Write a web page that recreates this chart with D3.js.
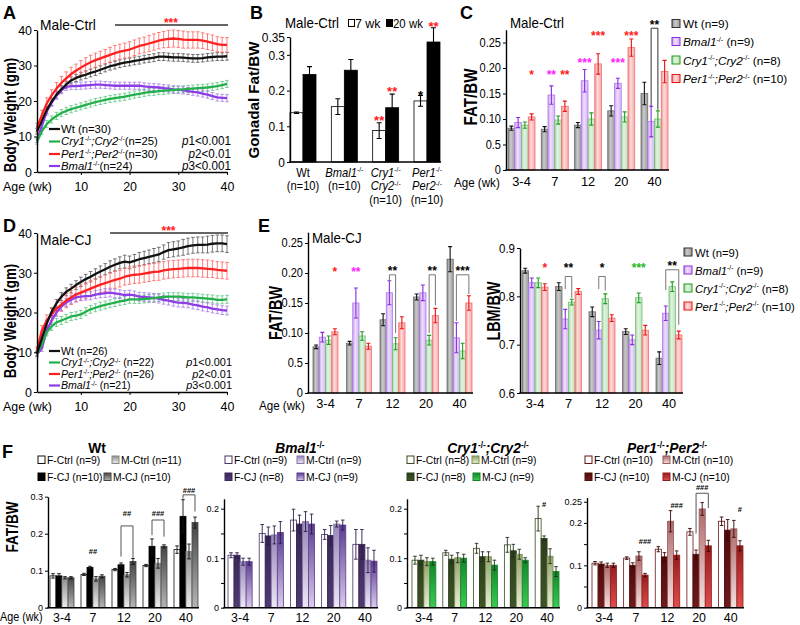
<!DOCTYPE html>
<html><head><meta charset="utf-8">
<script src="https://cdn.jsdelivr.net/npm/d3@7/dist/d3.min.js"></script>
<style>html,body{margin:0;padding:0;background:#fff;}</style>
</head><body>
<script>
// ================= DATA =================
const weeks=[1,2,3,4,5,6,7,8,9,10,11,12,13,14,15,16,17,18,19,20,21,22,23,24,25,26,27,28,29,30,31,32,33,34,35,36,37,38,39,40];
const bwTicks=[0,10,20,30,40];
const ageTicks=[10,20,30,40];

// Panel A (Male-Ctrl body weight, gm)
const A_Wt=[11.5,14.5,17.5,19.8,21.8,23.3,24.6,25.8,26.5,27,27.4,27.9,28.3,28.8,29.3,29.8,30.1,30.5,30.8,31,31.3,31.5,31.8,32,32.2,32.5,32.5,32.4,32.3,32.3,32.2,32.1,32,32,32.1,32.3,32.4,32.5,32.5,32.6];
const A_Per=[12.5,16,19.3,21.6,23.5,25.1,26.4,27.6,28.5,29.4,30.2,30.9,31.5,32,32.5,33,33.5,33.9,34.2,34.5,35,35.5,35.8,36.2,36.6,37,37.3,37.5,37.6,37.5,37.3,37.2,37.2,37.2,37,36.7,36.4,36,35.8,35.8];
const A_Cry=[8.5,11.5,13.5,14.8,15.8,16.6,17.2,17.7,18.1,18.5,18.9,19.3,19.7,20,20.3,20.6,20.8,21,21.2,21.5,21.8,22,22.3,22.5,22.6,22.8,22.9,23,23.1,23.2,23.3,23.4,23.5,23.6,23.7,23.8,24,24.2,24.5,24.8];
const A_Bmal=[9,13,17,19.5,21.5,23,24,24.2,24.2,24.3,24.4,24.5,24.6,24.6,24.5,24.4,24.3,24.3,24.3,24.3,24.3,24.3,24.1,24,23.9,23.8,23.6,23.5,23.3,23.2,23,22.8,22.6,22.4,22.1,21.8,21.4,21,20.9,20.8];
const A_Wt_se=[0.8,0.9,1,1,1,1,1,1,1,1.1,1.1,1.1,1.1,1.1,1.1,1.1,1.1,1.1,1.1,1.1,1.1,1.1,1.1,1.1,1.1,1.1,1.1,1.1,1.1,1.1,1.1,1.1,1.1,1.1,1.1,1.1,1.1,1.1,1.1,1.1];
const A_Per_se=[1.2,1.4,1.6,1.6,1.7,1.8,1.8,1.9,1.9,2,2,2,2,2,2,2.1,2.1,2.1,2.1,2.2,2.2,2.2,2.2,2.3,2.3,2.3,2.3,2.4,2.4,2.4,2.4,2.3,2.3,2.3,2.2,2.2,2.2,2.1,2.1,2.1];
const A_Cry_se=[0.7,0.9,1,1,1,1,1,1,1,1,1,1,1,1,1,1,1,1,1,1,1,1,1,1,1,1,1,1,1,1,1,1,1,1,1,1,1,1,1,1];
const A_Bmal_se=[0.7,0.9,1,1,1,1,1,1,1,1,1,1,1,1,1,1,1,1,1,1,1,1,1,1,1,1,1,1,1,1,1,1,1,1,1,1,1,1,1,1];

// Panel D (Male-CJ body weight, gm)
const D_Wt=[9.7,13.4,17.2,20.2,22.3,24,25.2,26,26.9,27.7,28.4,29,29.7,30.3,30.9,31.5,32,32.5,32.8,32.6,33,33.4,33.7,34,34.3,34.6,35.2,35.7,35.9,36.1,36.4,36.7,36.9,37,37,37.1,37.3,37.4,37.4,37.2];
const D_Per=[10.5,15.5,18,19.5,21,22,23,23.8,24.5,25,25.5,26,26.5,27,27.4,27.8,28.2,28.5,29,29.3,29.5,29.6,29.8,30,30.2,30.3,30.6,30.8,30.9,31,31.1,31.2,31.2,31.2,31.1,31,30.9,30.7,30.6,30.5];
const D_Cry=[9.5,12,15,16.5,17.5,18,18.5,19,19.2,19.5,20.2,20.8,21.2,21.6,21.9,22.2,22.5,22.8,23,23.3,23.3,23.3,23.4,23.5,23.6,23.8,23.9,24,24,24,23.9,23.8,23.8,23.7,23.6,23.5,23.4,23.2,23.2,23.3];
const D_Bmal=[9.5,11,15.5,18,20,21.5,22.5,23.2,23.8,24,24.1,24.2,24.5,24.7,24.9,25,24.8,24.6,24.4,24.5,24.3,24,23.9,23.8,23.7,23.5,23.2,23,22.7,22.5,22.4,22.3,22,21.8,21.5,21.3,21,20.8,20.6,20.5];
const D_Wt_se=[0.6,0.8,0.9,1,1,1,1,1.1,1.1,1.2,1.2,1.3,1.3,1.4,1.4,1.5,1.5,1.5,1.6,1.6,1.6,1.7,1.7,1.7,1.8,1.8,1.8,1.9,1.9,1.9,2,2,2,2,2,2.1,2.1,2.1,2.1,2.1];
const D_Per_se=[0.8,1.2,1.4,1.5,1.6,1.7,1.8,1.8,1.9,1.9,2,2,2,2,2.1,2.1,2.1,2.1,2.1,2.2,2.2,2.2,2.2,2.2,2.2,2.2,2.2,2.2,2.2,2.2,2.2,2.2,2.2,2.2,2.2,2.2,2.1,2.1,2.1,2.1];
const D_Cry_se=[0.6,0.8,0.9,1,1,1,1,1,1,1,1,1,1,1,1,1,1,1,1,1,1,1,1,1,1,1,1,1,1,1,1,1,1,1,1,1,1,1,1,1];
const D_Bmal_se=[0.6,0.8,0.9,1,1,1,1,1,1,1,1,1,1,1,1.1,1.1,1.1,1.1,1.1,1.1,1.1,1.1,1.1,1.1,1.1,1.1,1.1,1.1,1.1,1.1,1.1,1.1,1.1,1.1,1.1,1.1,1.1,1.1,1.1,1.1];

// Panel B (gonadal fat / BW)
const genoB=["Wt","Bmal","Cry","Per"];
const B_7wk=[0.138,0.155,0.088,0.171];
const B_7wk_se=[0.002,0.022,0.022,0.015];
const B_20wk=[0.245,0.257,0.152,0.336];
const B_20wk_se=[0.022,0.03,0.038,0.04];
const B_ticks=[0,0.1,0.2,0.3,0.35];
const B_tickLabels=["0","0.1","0.2","0.3","0.35"];

// Panels C / E
const ageCats=["3-4","7","12","20","40"];
const fatTicks=[0,0.05,0.1,0.15,0.2,0.25];
const fatTickLabels=["0","0.5","0.10","0.15","0.20","0.25"];
const C_Wt=[0.082,0.080,0.088,0.116,0.150],  C_Wt_se=[0.004,0.005,0.005,0.010,0.022];
const C_Bmal=[0.093,0.147,0.175,0.170,0.095],C_Bmal_se=[0.010,0.018,0.022,0.010,0.030];
const C_Cry=[0.088,0.098,0.100,0.104,0.100], C_Cry_se=[0.006,0.008,0.012,0.010,0.016];
const C_Per=[0.104,0.125,0.208,0.240,0.193], C_Per_se=[0.006,0.010,0.020,0.017,0.022];

const E_Wt=[0.077,0.083,0.122,0.160,0.223],  E_Wt_se=[0.003,0.003,0.010,0.005,0.021];
const E_Bmal=[0.093,0.150,0.167,0.167,0.092],E_Bmal_se=[0.008,0.025,0.020,0.013,0.025];
const E_Cry=[0.088,0.095,0.082,0.088,0.070], E_Cry_se=[0.007,0.007,0.010,0.008,0.013];
const E_Per=[0.102,0.078,0.117,0.129,0.150], E_Per_se=[0.005,0.005,0.010,0.012,0.012];

const lbmTicks=[0.6,0.7,0.8,0.9];
const lbmTickLabels=["0.6","0.7","0.8","0.9"];
const L_Wt=[0.853,0.820,0.768,0.727,0.672],  L_Wt_se=[0.005,0.008,0.010,0.006,0.013];
const L_Bmal=[0.828,0.753,0.730,0.710,0.765],L_Bmal_se=[0.010,0.020,0.018,0.010,0.015];
const L_Cry=[0.828,0.788,0.795,0.797,0.820], L_Cry_se=[0.010,0.006,0.010,0.010,0.010];
const L_Per=[0.819,0.810,0.755,0.730,0.720], L_Per_se=[0.007,0.006,0.007,0.010,0.008];

// Panel F (FAT/BW by sex & condition)
const F_Wt_FCtrl=[0.086,0.090,0.103,0.114,0.157], F_Wt_FCtrl_se=[0.006,0.003,0.003,0.003,0.010];
const F_Wt_FCJ=[0.086,0.109,0.116,0.166,0.247],   F_Wt_FCJ_se=[0.006,0.003,0.005,0.020,0.045];
const F_Wt_MCtrl=[0.081,0.078,0.089,0.120,0.152], F_Wt_MCtrl_se=[0.003,0.006,0.006,0.013,0.020];
const F_Wt_MCJ=[0.081,0.085,0.125,0.166,0.230],   F_Wt_MCJ_se=[0.003,0.004,0.008,0.004,0.015];
const F_Bm_FCtrl=[0.106,0.150,0.177,0.148,0.128], F_Bm_FCtrl_se=[0.005,0.018,0.022,0.010,0.030];
const F_Bm_FCJ=[0.106,0.145,0.169,0.146,0.128],   F_Bm_FCJ_se=[0.005,0.018,0.018,0.020,0.030];
const F_Bm_MCtrl=[0.093,0.147,0.174,0.169,0.096], F_Bm_MCtrl_se=[0.007,0.018,0.020,0.006,0.025];
const F_Bm_MCJ=[0.093,0.152,0.169,0.167,0.094],   F_Bm_MCJ_se=[0.007,0.022,0.020,0.010,0.022];
const F_Cr_FCtrl=[0.096,0.111,0.120,0.127,0.180], F_Cr_FCtrl_se=[0.008,0.005,0.010,0.015,0.025];
const F_Cr_FCJ=[0.096,0.098,0.103,0.115,0.140],   F_Cr_FCJ_se=[0.010,0.008,0.010,0.013,0.005];
const F_Cr_MCtrl=[0.093,0.101,0.103,0.108,0.104], F_Cr_MCtrl_se=[0.008,0.010,0.010,0.010,0.015];
const F_Cr_MCJ=[0.093,0.100,0.086,0.096,0.073],   F_Cr_MCJ_se=[0.007,0.008,0.010,0.005,0.010];
const F_Pe_FCtrl=[0.105,0.117,0.138,0.179,0.204], F_Pe_FCtrl_se=[0.004,0.003,0.006,0.008,0.010];
const F_Pe_FCJ=[0.103,0.100,0.120,0.126,0.183],   F_Pe_FCJ_se=[0.005,0.006,0.010,0.010,0.025];
const F_Pe_MCtrl=[0.100,0.122,0.204,0.233,0.186], F_Pe_MCtrl_se=[0.005,0.010,0.025,0.015,0.020];
const F_Pe_MCJ=[0.100,0.077,0.124,0.146,0.146],   F_Pe_MCJ_se=[0.005,0.004,0.010,0.013,0.012];

// ================= DRAWING =================
const FF="'Liberation Sans', Arial, Helvetica, sans-serif";
const RED="#ff1a1a", MAG="#ff22ff", GRN="#22b822";
const svg=d3.select("body").append("svg").attr("width",800).attr("height",625).style("display","block");
svg.append("rect").attr("width",800).attr("height",625).attr("fill","#fff");
const defs=svg.append("defs");
function grad(id,stops,vertical){
  const lg=defs.append("linearGradient").attr("id",id).attr("x1",0).attr("y1",0)
    .attr("x2",vertical?0:1).attr("y2",vertical?1:0);
  stops.forEach(([o,c])=>lg.append("stop").attr("offset",o).attr("stop-color",c));
  return `url(#${id})`;
}
function T(g,x,y,parts,o={}){
  const fs=o.size||13;
  const t=g.append("text").attr("x",x).attr("y",y).attr("font-family",FF).attr("font-size",fs)
    .attr("font-weight",o.bold?"bold":"normal").attr("text-anchor",o.anchor||"start").attr("fill",o.color||"#000");
  if(o.it) t.attr("font-style","italic");
  if(typeof parts==="string") parts=[{t:parts}];
  let up=false;
  parts.forEach(p=>{
    const s=t.append("tspan").text(p.t);
    if(p.it) s.attr("font-style","italic");
    if(p.sup){ s.attr("font-size",fs*0.6).attr("dy",-fs*0.36); up=true; }
    else if(up){ s.attr("dy",fs*0.36); up=false; }
  });
  let tr="";
  if(o.rot) tr+=`rotate(-90,${x},${y}) `;
  if(o.k && o.k!==1) tr+=`translate(${x},${y}) scale(${o.k},1) translate(${-x},${-y})`;
  if(tr) t.attr("transform",tr);
  return t;
}
const G={
  Wt:[{t:"Wt"}],
  Bmal:[{t:"Bmal1",it:1},{t:"-/-",sup:1}],
  Cry:[{t:"Cry1",it:1},{t:"-/-",sup:1},{t:";",it:1},{t:"Cry2",it:1},{t:"-/-",sup:1}],
  Per:[{t:"Per1",it:1},{t:"-/-",sup:1},{t:";",it:1},{t:"Per2",it:1},{t:"-/-",sup:1}]
};
function styleAxis(a,fs,k){
  a.attr("font-family",FF).attr("font-size",fs);
  a.select(".domain").attr("stroke","#000").attr("stroke-width",1.4);
  a.selectAll(".tick line").attr("stroke","#000").attr("stroke-width",1);
  a.selectAll(".tick text").attr("fill","#000");
  if(k && k!==1){
    a.selectAll(".tick text").each(function(){
      const el=d3.select(this); const x=+el.attr("x")||0;
      el.attr("transform",`translate(${x},0) scale(${k},1) translate(${-x},0)`);
    });
  }
}
function letter(x,y,s){ T(svg,x,y,s,{size:18,bold:true}); }

// ---------- curve panels (A, D) ----------
function curvePanel(c){
  const g=svg.append("g");
  const x=d3.scaleLinear().domain([1,40]).range([c.x0,c.x1]);
  const y=d3.scaleLinear().domain([0,40]).range([c.y0,c.y1]);
  c.series.forEach(s=>{
    g.append("g").attr("stroke",s.ecol).attr("stroke-width",0.8).attr("fill","none")
      .selectAll("path").data(weeks).join("path")
      .attr("d",(w,i)=>{const cx=x(w),t=y(s.vals[i]+s.se[i]),b=y(s.vals[i]-s.se[i]);
        return `M${cx},${b}V${t}M${cx-1.8},${t}H${cx+1.8}M${cx-1.8},${b}H${cx+1.8}`;});
  });
  c.drawOrder.forEach(i=>{
    const s=c.series[i];
    g.append("path").datum(weeks).attr("fill","none").attr("stroke",s.col).attr("stroke-width",2.3)
      .attr("stroke-linejoin","round")
      .attr("d",d3.line().x(w=>x(w)).y((w,j)=>y(s.vals[j])));
  });
  const ya=g.append("g").attr("transform",`translate(${c.x0},0)`)
    .call(d3.axisLeft(y).tickValues(bwTicks).tickSize(3).tickSizeOuter(0).tickPadding(2));
  styleAxis(ya,13.5,0.92);
  const xa=g.append("g").attr("transform",`translate(0,${c.y0})`)
    .call(d3.axisBottom(x).tickValues(ageTicks).tickSize(3).tickSizeOuter(0).tickPadding(6));
  styleAxis(xa,13.5,0.92);
  T(g,3,c.y0+19,"Age (wk)",{size:13.5,k:0.92});
  T(g,c.labX,c.labY,"Body Weight (gm)",{size:16,bold:true,rot:true,anchor:"middle",k:0.84});
  T(g,x(1)+3,c.titleY,c.title,{size:15,k:0.92});
  g.append("line").attr("x1",x(c.sig[0])).attr("x2",x(c.sig[1])+1).attr("y1",c.sigY).attr("y2",c.sigY)
    .attr("stroke","#333").attr("stroke-width",1.4);
  T(g,(x(c.sig[0])+x(c.sig[1]))/2,c.sigY+1.5,"***",{size:12,bold:true,color:RED,anchor:"middle"});
  c.legend.forEach((L,i)=>{
    const by=c.legY[i];
    g.append("line").attr("x1",49).attr("x2",60).attr("y1",by-4).attr("y2",by-4).attr("stroke",L.col).attr("stroke-width",2.2);
    T(g,61,by,L.parts,{size:c.legFs,k:0.96});
    if(L.p) T(g,c.pX,by,[{t:"p",it:1},{t:L.p}],{size:c.legFs+0.5,anchor:"end",k:0.95});
  });
}
const cWt={col:"#111",ecol:"#555"}, cCry={col:"#22b04b",ecol:"#62c883"}, cPer={col:"#ff2020",ecol:"#ff6060"}, cBm={col:"#8e3ce6",ecol:"#a77ae8"};
curvePanel({x0:37,x1:227,y0:172,y1:30,labX:16,labY:115,title:"Male-Ctrl",titleY:30,sig:[17,40],sigY:25,
  series:[{...cWt,vals:A_Wt,se:A_Wt_se},{...cCry,vals:A_Cry,se:A_Cry_se},{...cPer,vals:A_Per,se:A_Per_se},{...cBm,vals:A_Bmal,se:A_Bmal_se}],
  drawOrder:[3,1,0,2],legFs:11.8,
  legend:[{col:cWt.col,parts:[...G.Wt,{t:" (n=30)"}]},{col:cCry.col,parts:[...G.Cry,{t:"(n=25)"}],p:"1<0.001"},
          {col:cPer.col,parts:[...G.Per,{t:"(n=30)"}],p:"2<0.01"},{col:cBm.col,parts:[...G.Bmal,{t:"(n=24)"}],p:"3<0.001"}],
  legY:[133,145.5,158,170],pX:231});
curvePanel({x0:37,x1:227,y0:392,y1:233,labX:16,labY:321,title:"Male-CJ",titleY:245,sig:[16,40],sigY:233,
  series:[{...cWt,vals:D_Wt,se:D_Wt_se},{...cCry,vals:D_Cry,se:D_Cry_se},{...cPer,vals:D_Per,se:D_Per_se},{...cBm,vals:D_Bmal,se:D_Bmal_se}],
  drawOrder:[3,1,2,0],legFs:11,
  legend:[{col:cWt.col,parts:[...G.Wt,{t:" (n=26)"}]},{col:cCry.col,parts:[...G.Cry,{t:" (n=22)"}],p:"1<0.001"},
          {col:cPer.col,parts:[...G.Per,{t:" (n=26)"}],p:"2<0.01"},{col:cBm.col,parts:[...G.Bmal,{t:" (n=21)"}],p:"3<0.001"}],
  legY:[355,366.5,378,389.5],pX:232});
letter(3,19,"A"); letter(3,232,"D");

// ---------- generic bars ----------
function drawBars(g,cats,x,y,series,base){
  const xi=d3.scaleBand().domain(d3.range(series.length)).range([0,x.bandwidth()]);
  series.forEach((s,si)=>{
    const gs=g.append("g");
    gs.selectAll("rect").data(cats).join("rect")
      .attr("x",c=>x(c)+xi(si)).attr("width",xi.bandwidth())
      .attr("y",(c,i)=>y(s.vals[i])).attr("height",(c,i)=>y(base)-y(s.vals[i]))
      .attr("fill",s.fill).attr("stroke",s.stroke).attr("stroke-width",s.sw||0.8);
    gs.append("g").attr("stroke",s.ecol).attr("stroke-width",s.ew||1.1).attr("fill","none")
      .selectAll("path").data(cats).join("path")
      .attr("d",(c,i)=>{const cx=x(c)+xi(si)+xi.bandwidth()/2,v=s.vals[i],e=s.se[i],t=y(v+e),b=y(v-e),w=s.cap||2;
        return `M${cx},${b}V${t}M${cx-w},${t}H${cx+w}M${cx-w},${b}H${cx+w}`;});
  });
  return xi;
}
function drawAnn(g,x,xi,y,anns,o){
  anns.forEach(a=>{
    let cx;
    if(a.b!==undefined){
      const xa=x(a.cat)+xi(a.a)+xi.bandwidth()/2, xb=x(a.cat)+xi(a.b)+xi.bandwidth()/2;
      g.append("path").attr("d",`M${xa},${y(a.la)}V${y(a.top)}H${xb}V${y(a.lb)}`)
        .attr("fill","none").attr("stroke",o.bcol).attr("stroke-width",1);
      cx=(xa+xb)/2;
    } else if(a.idx==null){ cx=x(a.cat)+x.bandwidth()/2; }
    else { cx=x(a.cat)+xi(a.idx)+xi.bandwidth()/2; }
    T(g,cx,y(a.lv)+o.fs*o.off,a.text,{size:o.fs,bold:true,color:a.col||"#000",anchor:"middle"});
  });
}
function barAxes(g,x,y,ax0,ticks,labels,fsY,fsX,padX,kY,kX){
  const ya=g.append("g").attr("transform",`translate(${ax0},0)`)
    .call(d3.axisLeft(y).tickValues(ticks).tickFormat((d,i)=>labels[i]).tickSize(3).tickSizeOuter(0).tickPadding(2));
  styleAxis(ya,fsY,kY);
  const xa=g.append("g").attr("transform",`translate(0,${y.range()[0]})`)
    .call(d3.axisBottom(x).tickSize(0).tickPadding(padX));
  styleAxis(xa,fsX,kX);
  xa.select(".domain").remove();
  g.append("line").attr("x1",ax0-0.7).attr("x2",x.range()[1]+1).attr("y1",y.range()[0]).attr("y2",y.range()[0])
    .attr("stroke","#000").attr("stroke-width",1.5);
  return xa;
}

// ---------- Panel B ----------
(function(){
  const g=svg.append("g");
  const y=d3.scaleLinear().domain([0,0.35]).range([162,37]);
  const x=d3.scaleBand().domain(genoB).range([290,440]).paddingInner(0.371);
  const xi=drawBars(g,genoB,x,y,[
    {vals:B_7wk,se:B_7wk_se,fill:"#fff",stroke:"#000",ecol:"#000",cap:2.5},
    {vals:B_20wk,se:B_20wk_se,fill:"#000",stroke:"#000",ecol:"#000",cap:2.5}],0);
  const xa=barAxes(g,x,y,290,B_ticks,B_tickLabels,13,12,3,0.92);
  xa.selectAll(".tick text").remove();
  const lab={Wt:[G.Wt,[{t:"(n=10)"}]],Bmal:[G.Bmal,[{t:"(n=10)"}]],
    Cry:[[{t:"Cry1",it:1},{t:"-/-",sup:1}],[{t:"Cry2",it:1},{t:"-/-",sup:1}],[{t:"(n=10)"}]],
    Per:[[{t:"Per1",it:1},{t:"-/-",sup:1}],[{t:"Per2",it:1},{t:"-/-",sup:1}],[{t:"(n=10)"}]]};
  genoB.forEach(k=>lab[k].forEach((p,i)=>T(g,x(k)+x.bandwidth()/2,177+i*13.5,p,{size:13,anchor:"middle",k:0.86})));
  T(g,259,100,"Gonadal Fat/BW",{size:15.5,bold:true,rot:true,anchor:"middle",k:0.98});
  T(g,285,28,"Male-Ctrl",{size:14.5,k:0.92});
  g.append("rect").attr("x",348.5).attr("y",19.5).attr("width",6).attr("height",7).attr("fill","#fff").attr("stroke","#000");
  T(g,355,28,"7 wk",{size:13.5,k:0.92});
  g.append("rect").attr("x",386.5).attr("y",19.5).attr("width",6).attr("height",7).attr("fill","#000").attr("stroke","#000");
  T(g,393,28,"20 wk",{size:13,k:0.88});
  drawAnn(g,x,xi,y,[
    {cat:"Cry",idx:0,text:"**",col:RED,lv:0.126},{cat:"Cry",idx:1,text:"**",col:RED,lv:0.207},
    {cat:"Per",idx:0,text:"*",col:"#000",lv:0.196},{cat:"Per",idx:1,text:"**",col:RED,lv:0.389}],{fs:13,off:0.58,bcol:"#000"});
  letter(250,19,"B");
})();

// ---------- C / E styles ----------
const hWt=grad("hWt",[[0,"#858585"],[0.4,"#cacaca"],[1,"#9c9c9c"]]);
const hBm=grad("hBm",[[0,"#c79df0"],[0.4,"#eedffb"],[1,"#d5b3f4"]]);
const hCr=grad("hCr",[[0,"#a2d6a2"],[0.4,"#e3f3e3"],[1,"#bce2bc"]]);
const hPe=grad("hPe",[[0,"#f48c8c"],[0.4,"#fddcdc"],[1,"#f7a9a9"]]);
const sWt={fill:hWt,stroke:"#6e6e6e",ecol:"#111",cap:2};
const sBm={fill:hBm,stroke:"#b27af0",ecol:"#8a2be2",cap:2};
const sCr={fill:hCr,stroke:"#76c476",ecol:"#1f9f1f",cap:2};
const sPe={fill:hPe,stroke:"#f27272",ecol:"#ee1111",cap:2};
function genoLegend(g,x,ys,ns,fs){
  const st=[sWt,sBm,sCr,sPe], keys=["Wt","Bmal","Cry","Per"];
  keys.forEach((k,i)=>{
    g.append("rect").attr("x",x).attr("y",ys[i]-8.5).attr("width",8).attr("height",8)
      .attr("fill",st[i].fill).attr("stroke",i===0?"#333":st[i].ecol).attr("stroke-width",1);
    T(g,x+11,ys[i],[...G[k],{t:ns[i]}],{size:fs});
  });
}

// ---------- Panel C ----------
(function(){
  const g=svg.append("g");
  const y=d3.scaleLinear().domain([0,0.275]).range([170,29.75]);
  const x=d3.scaleBand().domain(ageCats).range([508,668]).paddingInner(0.188);
  const xi=drawBars(g,ageCats,x,y,[
    {...sWt,vals:C_Wt,se:C_Wt_se},{...sBm,vals:C_Bmal,se:C_Bmal_se},{...sCr,vals:C_Cry,se:C_Cry_se},{...sPe,vals:C_Per,se:C_Per_se}],0);
  barAxes(g,x,y,506,fatTicks,fatTickLabels,12,13.5,6,0.92,0.95);
  drawAnn(g,x,xi,y,[
    {cat:"3-4",idx:3,text:"*",col:RED,lv:0.192},
    {cat:"7",idx:1,text:"**",col:MAG,lv:0.192},{cat:"7",idx:3,text:"**",col:RED,lv:0.192},
    {cat:"12",idx:1,text:"***",col:MAG,lv:0.216},{cat:"12",idx:3,text:"***",col:RED,lv:0.269},
    {cat:"20",idx:1,text:"***",col:MAG,lv:0.216},{cat:"20",idx:3,text:"***",col:RED,lv:0.269},
    {cat:"40",a:1,b:2,top:0.278,la:0.124,lb:0.118,text:"**",col:"#000",lv:0.29}],{fs:12,off:0.58,bcol:"#333"});
  T(g,454,187,"Age (wk)",{size:13.5,k:0.86});
  T(g,477,97,"FAT/BW",{size:19,bold:true,rot:true,anchor:"middle",k:0.8});
  T(g,510,28,"Male-Ctrl",{size:14.5,k:0.92});
  genoLegend(g,672,[28,46,64.5,83],[" (n=9)"," (n=9)"," (n=8)"," (n=10)"],11.8);
  letter(460,19,"C");
})();

// ---------- Panel E ----------
(function(){
  const g=svg.append("g");
  const y=d3.scaleLinear().domain([0,0.268]).range([393,232.2]);
  const x=d3.scaleBand().domain(ageCats).range([313,472]).paddingInner(0.254);
  const xi=drawBars(g,ageCats,x,y,[
    {...sWt,vals:E_Wt,se:E_Wt_se},{...sBm,vals:E_Bmal,se:E_Bmal_se},{...sCr,vals:E_Cry,se:E_Cry_se},{...sPe,vals:E_Per,se:E_Per_se}],0);
  barAxes(g,x,y,308,fatTicks,fatTickLabels,12,13.5,5,0.92,0.95);
  drawAnn(g,x,xi,y,[
    {cat:"3-4",idx:3,text:"*",col:RED,lv:0.207},{cat:"7",idx:1,text:"**",col:MAG,lv:0.207},
    {cat:"12",a:1,b:2,top:0.197,la:0.186,lb:0.1,text:"**",col:"#000",lv:0.208},
    {cat:"20",a:2,b:3,top:0.197,la:0.1,lb:0.146,text:"**",col:"#000",lv:0.208},
    {cat:"40",a:1,b:3,top:0.197,la:0.12,lb:0.165,text:"***",col:"#000",lv:0.208}],{fs:12,off:0.58,bcol:"#777"});
  T(g,259,410.5,"Age (wk)",{size:13.5,k:0.86});
  T(g,282,313,"FAT/BW",{size:18,bold:true,rot:true,anchor:"middle",k:0.8});
  T(g,312,243,"Male-CJ",{size:14.5,k:0.92});
  const y2=d3.scaleLinear().domain([0.6,0.9]).range([393,248]);
  const x2=d3.scaleBand().domain(ageCats).range([522,682]).paddingInner(0.224);
  const xi2=drawBars(g,ageCats,x2,y2,[
    {...sWt,vals:L_Wt,se:L_Wt_se},{...sBm,vals:L_Bmal,se:L_Bmal_se},{...sCr,vals:L_Cry,se:L_Cry_se},{...sPe,vals:L_Per,se:L_Per_se}],0.6);
  barAxes(g,x2,y2,520,lbmTicks,lbmTickLabels,12.5,13.5,5,0.92,0.95);
  drawAnn(g,x2,xi2,y2,[
    {cat:"3-4",idx:3,text:"*",col:RED,lv:0.865},
    {cat:"7",a:1,b:2,top:0.841,la:0.815,lb:0.797,text:"**",col:"#000",lv:0.865},
    {cat:"12",a:1,b:2,top:0.841,la:0.815,lb:0.812,text:"*",col:"#000",lv:0.865},
    {cat:"20",idx:2,text:"***",col:GRN,lv:0.865},
    {cat:"40",a:1,b:3,top:0.855,la:0.813,lb:0.741,text:"**",col:"#000",lv:0.869}],{fs:12,off:0.58,bcol:"#777"});
  T(g,500,311,"LBM/BW",{size:18,bold:true,rot:true,anchor:"middle",k:0.8});
  genoLegend(g,684,[256.5,274.5,292.5,310.5],[" (n=9)"," (n=9)"," (n=8)"," (n=10)"],11.3);
  letter(258,232,"E");
})();

// ---------- Panel F ----------
const fSeries=["F-Ctrl","F-CJ","M-Ctrl","M-CJ"];
function fPanel(c){
  const g=svg.append("g");
  const y=d3.scaleLinear().domain(c.yd).range([607.7,c.ytop]);
  const x=d3.scaleBand().domain(ageCats).range(c.xr).paddingInner(0.226);
  const st=c.styles;
  const xi=drawBars(g,ageCats,x,y,c.data.map((d,i)=>({...st[i],vals:d[0],se:d[1],ecol:c.ecol,cap:1.8,ew:0.9})),0);
  barAxes(g,x,y,c.ax,c.ticks,c.tickLabels,9.5,13.5,5,0.95,0.92);
  drawAnn(g,x,xi,y,c.ann,{fs:7.5,off:0.36,bcol:"#555"});
  T(g,c.tx,453,c.title,{size:15,bold:true,anchor:"middle",k:0.92});
  const L=c.leg;
  [[0,L.x1,464],[2,L.x2,464],[1,L.x1,481],[3,L.x3,481]].forEach(([si,lx,ly])=>{
    g.append("rect").attr("x",lx).attr("y",ly-8).attr("width",7).attr("height",7.5)
      .attr("fill",st[si].fill).attr("stroke",st[si].stroke).attr("stroke-width",1);
    T(g,lx+9,ly,fSeries[si]+" "+c.ns[si],{size:11.5,k:0.9});
  });
}
const vWtMC=grad("vWtMC",[[0,"#8e8e8e"],[1,"#ececec"]],true), vWtMJ=grad("vWtMJ",[[0,"#454545"],[1,"#b5b5b5"]],true);
const vBmFJ=grad("vBmFJ",[[0,"#3a2656"],[1,"#513a74"]],true), vBmMC=grad("vBmMC",[[0,"#9686b8"],[1,"#eee8f5"]],true), vBmMJ=grad("vBmMJ",[[0,"#5c3c90"],[1,"#dacdec"]],true);
const vCrFJ=grad("vCrFJ",[[0,"#2b3e1b"],[1,"#3d5527"]],true), vCrMC=grad("vCrMC",[[0,"#93a36a"],[1,"#e8eed6"]],true), vCrMJ=grad("vCrMJ",[[0,"#12862a"],[1,"#3ccb52"]],true);
const vPeFJ=grad("vPeFJ",[[0,"#500b0b"],[1,"#701a1a"]],true), vPeMC=grad("vPeMC",[[0,"#ad6a6a"],[1,"#f5e0e0"]],true), vPeMJ=grad("vPeMJ",[[0,"#941c1c"],[1,"#e24c4c"]],true);
fPanel({yd:[0,0.3],ytop:496.7,xr:[50,198],ax:48,ticks:[0,0.1,0.2,0.3],tickLabels:["0","0.1","0.2","0.3"],ecol:"#111",
  title:[{t:"Wt"}],tx:97,leg:{x1:38,x2:112,x3:104},ns:["(n=9)","(n=10)","(n=11)","(n=10)"],
  styles:[{fill:"#fff",stroke:"#111"},{fill:"#000",stroke:"#000"},{fill:vWtMC,stroke:"#888"},{fill:vWtMJ,stroke:"#444"}],
  data:[[F_Wt_FCtrl,F_Wt_FCtrl_se],[F_Wt_FCJ,F_Wt_FCJ_se],[F_Wt_MCtrl,F_Wt_MCtrl_se],[F_Wt_MCJ,F_Wt_MCJ_se]],
  ann:[{cat:"7",idx:null,text:"##",lv:0.153},
       {cat:"12",a:1,b:3,top:0.221,la:0.138,lb:0.135,text:"##",lv:0.256},
       {cat:"20",a:1,b:3,top:0.237,la:0.196,lb:0.192,text:"###",lv:0.256},
       {cat:"40",a:1,b:3,top:0.305,la:0.295,lb:0.26,text:"###",lv:0.316}]});
fPanel({yd:[0,0.22],ytop:498.8,xr:[228,377],ax:224,ticks:[0,0.05,0.1,0.15,0.2],tickLabels:["0","","0.1","","0.2"],ecol:"#2e1c48",
  title:G.Bmal,tx:300,leg:{x1:225,x2:297,x3:297},ns:["(n=9)","(n=8)","(n=9)","(n=9)"],
  styles:[{fill:"#fff",stroke:"#4a3366"},{fill:vBmFJ,stroke:"#3a2656"},{fill:vBmMC,stroke:"#8676a8"},{fill:vBmMJ,stroke:"#5c3c90"}],
  data:[[F_Bm_FCtrl,F_Bm_FCtrl_se],[F_Bm_FCJ,F_Bm_FCJ_se],[F_Bm_MCtrl,F_Bm_MCtrl_se],[F_Bm_MCJ,F_Bm_MCJ_se]],ann:[]});
fPanel({yd:[0,0.22],ytop:498.8,xr:[412,559],ax:407,ticks:[0,0.05,0.1,0.15,0.2],tickLabels:["0","","0.1","","0.2"],ecol:"#22301a",
  title:G.Cry,tx:488,leg:{x1:407,x2:472,x3:473},ns:["(n=8)","(n=8)","(n=9)","(n=9)"],
  styles:[{fill:"#fff",stroke:"#3a4a20"},{fill:vCrFJ,stroke:"#2b3e1b"},{fill:vCrMC,stroke:"#7e8e58"},{fill:vCrMJ,stroke:"#12862a"}],
  data:[[F_Cr_FCtrl,F_Cr_FCtrl_se],[F_Cr_FCJ,F_Cr_FCJ_se],[F_Cr_MCtrl,F_Cr_MCtrl_se],[F_Cr_MCJ,F_Cr_MCJ_se]],
  ann:[{cat:"40",idx:1,text:"#",lv:0.209}]});
fPanel({yd:[0,0.26],ytop:497.5,xr:[592,743],ax:587,ticks:[0,0.05,0.1,0.15,0.2,0.25],tickLabels:["0","","0.1","","0.2","0.25"],ecol:"#3a0808",
  title:G.Per,tx:667,leg:{x1:585,x2:663,x3:663},ns:["(n=10)","(n=10)","(n=10)","(n=10)"],
  styles:[{fill:"#fff",stroke:"#6a1515"},{fill:vPeFJ,stroke:"#500b0b"},{fill:vPeMC,stroke:"#9a5a5a"},{fill:vPeMJ,stroke:"#941c1c"}],
  data:[[F_Pe_FCtrl,F_Pe_FCtrl_se],[F_Pe_FCJ,F_Pe_FCJ_se],[F_Pe_MCtrl,F_Pe_MCtrl_se],[F_Pe_MCJ,F_Pe_MCJ_se]],
  ann:[{cat:"7",idx:3,text:"###",lv:0.156},{cat:"12",idx:3,text:"###",lv:0.242},
       {cat:"20",a:1,b:3,top:0.27,la:0.175,lb:0.235,text:"###",lv:0.285},{cat:"40",idx:3,text:"#",lv:0.232}]});
T(svg,18,527,"FAT/BW",{size:16,bold:true,rot:true,anchor:"middle",k:0.85});
T(svg,0,621.5,"Age (wk)",{size:12,k:0.9});
letter(2,458,"F");
</script>
</body></html>
